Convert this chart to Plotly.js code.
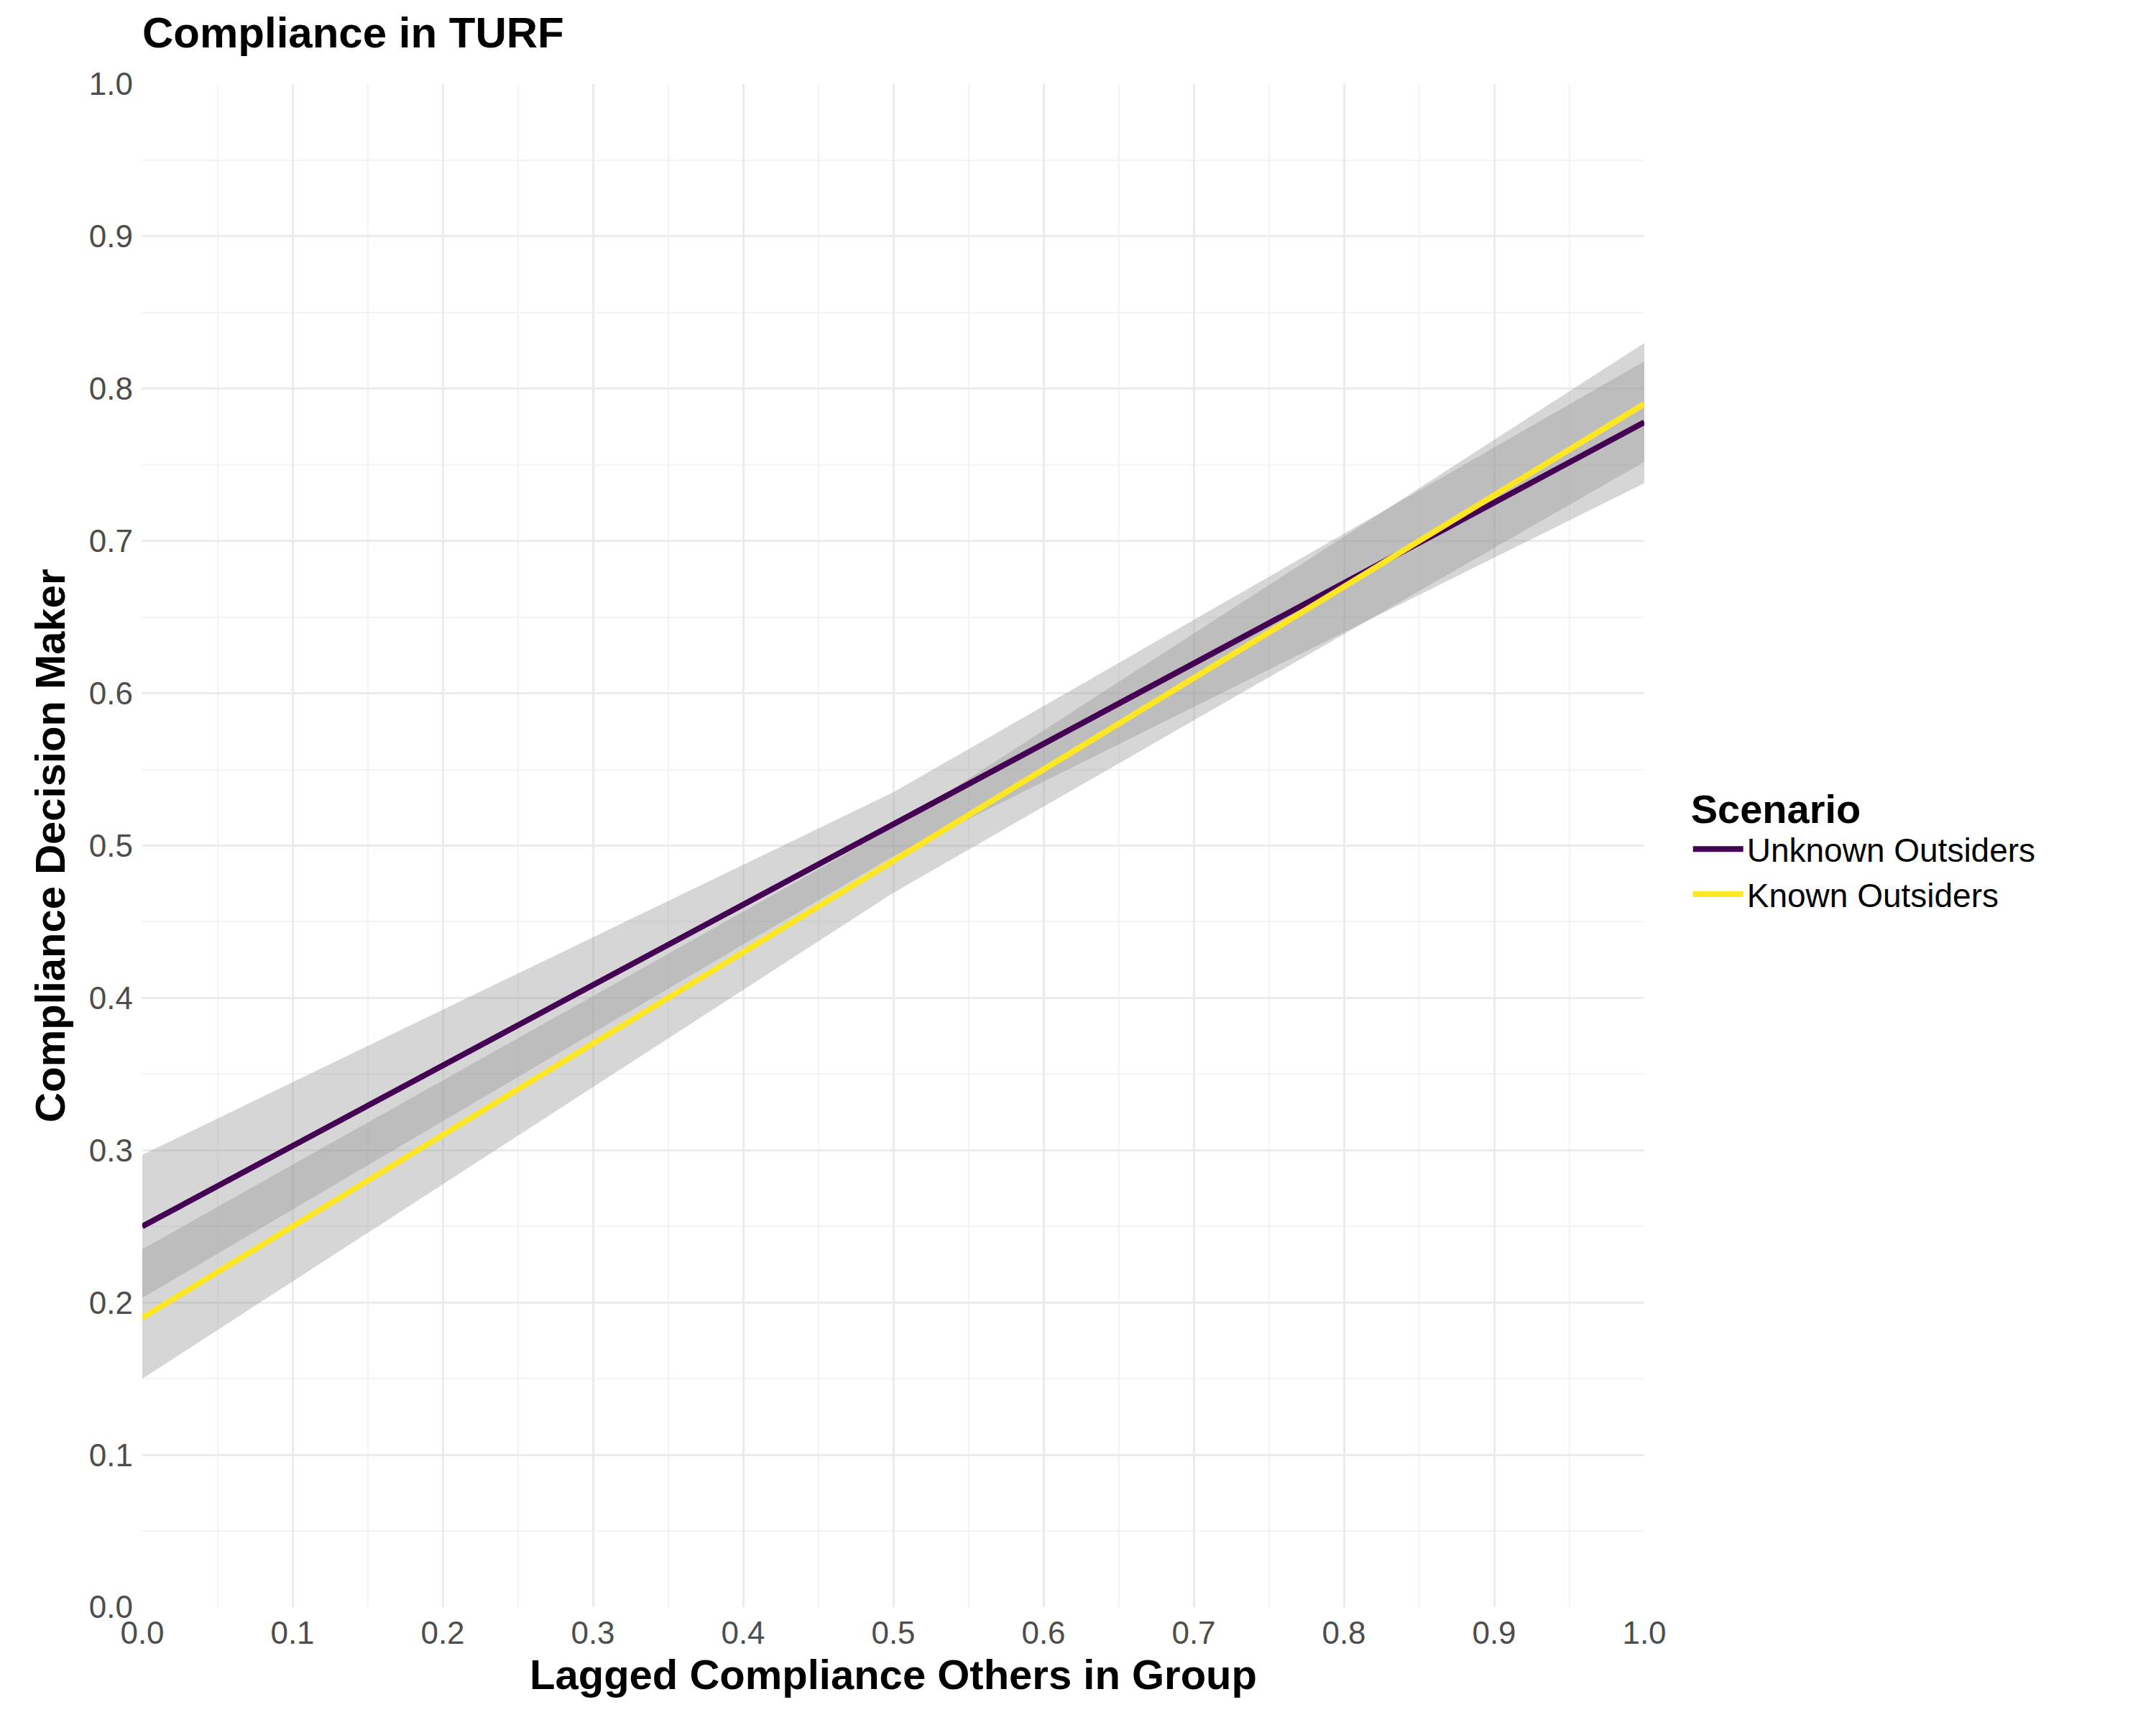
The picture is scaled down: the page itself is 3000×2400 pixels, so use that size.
<!DOCTYPE html>
<html>
<head>
<meta charset="utf-8">
<script src="https://cdn.plot.ly/plotly-3.0.1.min.js"></script>
<style>body{margin:0;background:#fff}#chart{width:3000px;height:2400px}</style>
</head>
<body>
<div id="chart"></div>
<script>
// x positions of the fitted lines
const xs = [0, 0.5, 1];

// Unknown Outsiders: fit and confidence band
const unknownFit = [0.250, 0.514, 0.778];
const unknownLow = [0.203, 0.493, 0.738];
const unknownHigh = [0.297, 0.535, 0.818];

// Known Outsiders: fit and confidence band
const knownFit = [0.190, 0.490, 0.790];
const knownLow = [0.150, 0.469, 0.752];
const knownHigh = [0.235, 0.512, 0.830];

const bandFill = 'rgba(153,153,153,0.4)';

function band(low, high, group) {
  return {
    x: xs.concat(xs.slice().reverse()),
    y: high.concat(low.slice().reverse()),
    type: 'scatter', mode: 'lines', fill: 'toself',
    fillcolor: bandFill, line: {width: 0}, hoverinfo: 'skip',
    showlegend: false, legendgroup: group
  };
}

const traces = [
  band(unknownLow, unknownHigh, 'u'),
  band(knownLow, knownHigh, 'k'),
  {x: xs, y: unknownFit, type: 'scatter', mode: 'lines', name: 'Unknown Outsiders',
   legendgroup: 'u', line: {color: '#440154', width: 8}},
  {x: xs, y: knownFit, type: 'scatter', mode: 'lines', name: 'Known Outsiders',
   legendgroup: 'k', line: {color: '#FDE725', width: 8}}
];

const axisCommon = {
  range: [0, 1], dtick: 0.1, tickformat: '.1f', zeroline: false,
  gridcolor: '#ebebeb', gridwidth: 3, showline: false, ticks: '',
  tickfont: {size: 44, color: '#4d4d4d'},
  minor: {dtick: 0.05, showgrid: true, gridcolor: '#f3f3f3', gridwidth: 1.5}
};

const layout = {
  width: 3000, height: 2400,
  paper_bgcolor: '#fff', plot_bgcolor: '#fff',
  font: {family: 'Liberation Sans, Arial, sans-serif', color: '#000'},
  margin: {l: 198, r: 712, t: 117, b: 164},
  title: {text: '<b>Compliance in TURF</b>', font: {size: 60}, x: 0.066, xanchor: 'left', y: 0.99, yanchor: 'top'},
  xaxis: Object.assign({}, axisCommon, {
    ticklabelstandoff: 6,
    title: {text: '<b>Lagged Compliance Others in Group</b>', font: {size: 58}, standoff: 14}
  }),
  yaxis: Object.assign({}, axisCommon, {
    ticklabelstandoff: 12,
    title: {text: '<b>Compliance Decision Maker</b>', font: {size: 58}, standoff: 14}
  }),
  showlegend: true,
  legend: {
    x: 1.03, y: 0.5, xanchor: 'left', yanchor: 'middle',
    title: {text: '<b>Scenario</b>', font: {size: 56}},
    font: {size: 46}, traceorder: 'normal', itemwidth: 70,
    bgcolor: 'rgba(0,0,0,0)'
  }
};

Plotly.newPlot('chart', traces, layout, {displayModeBar: false});
</script>
</body>
</html>
